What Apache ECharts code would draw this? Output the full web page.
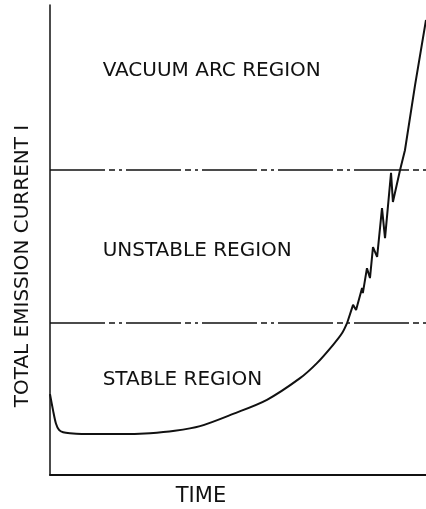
<!DOCTYPE html>
<html>
<head>
<meta charset="utf-8">
<script src="https://cdn.jsdelivr.net/npm/echarts@6/dist/echarts.min.js"></script>
<style>
  html, body { margin: 0; padding: 0; background: #fff; }
  #chart { width: 426px; height: 509px; }
</style>
</head>
<body>
<div id="chart"></div>
<script>
// Emission current versus time (arbitrary units, axes run 0..10)
const timeValues = [0, 0.08, 0.16, 0.24, 0.35, 0.53, 1.06, 1.86, 2.66, 3.32, 3.99, 4.87,
  5.77, 6.65, 7.10, 7.53, 7.77, 7.90, 8.06, 8.14, 8.30, 8.32, 8.43, 8.51, 8.59, 8.70,
  8.83, 8.91, 9.07, 9.12, 9.31, 9.44, 9.71, 10];
const currentValues = [1.72, 1.38, 1.09, 0.96, 0.91, 0.89, 0.87, 0.87, 0.89, 0.94, 1.04, 1.30,
  1.60, 2.06, 2.38, 2.77, 3.02, 3.23, 3.62, 3.51, 3.98, 3.87, 4.40, 4.19, 4.85, 4.64,
  5.68, 5.04, 6.43, 5.81, 6.49, 6.91, 8.30, 9.68];

// Boundaries between the operating regions
const stableLimit = 3.23;
const arcLimit = 6.49;

const regionNames = ['VACUUM ARC REGION', 'UNSTABLE REGION', 'STABLE REGION'];
const regionLevels = [8.6, 4.76, 2.03];

const xAxisTitle = 'TIME';
const yAxisTitle = 'TOTAL EMISSION CURRENT I';

const FONT = '"DejaVu Sans", sans-serif';

// The curve is smooth while stable and turns jagged once it passes the stable limit
const points = timeValues.map((t, i) => [t, currentValues[i]]);
const splitIndex = currentValues.findIndex(v => v >= stableLimit);
const stablePart = points.slice(0, splitIndex + 1);
const unstablePart = points.slice(splitIndex);

const chart = echarts.init(document.getElementById('chart'), null, { renderer: 'canvas' });

const curveStyle = { color: '#111', width: 2 };

const option = {
  animation: false,
  backgroundColor: '#fff',
  grid: { left: 50, right: 0, top: 5, bottom: 34, containLabel: false },
  xAxis: {
    type: 'value', min: 0, max: 10,
    axisLine: { show: true, lineStyle: { color: '#111', width: 2 } },
    axisTick: { show: false }, axisLabel: { show: false }, splitLine: { show: false }
  },
  yAxis: {
    type: 'value', min: 0, max: 10,
    axisLine: { show: true, lineStyle: { color: '#111', width: 1.5 } },
    axisTick: { show: false }, axisLabel: { show: false }, splitLine: { show: false }
  },
  series: [
    {
      type: 'line',
      data: stablePart,
      showSymbol: false,
      smooth: 0.3,
      lineStyle: curveStyle,
      z: 3,
      markLine: {
        silent: true,
        symbol: ['none', 'none'],
        label: { show: false },
        lineStyle: { color: '#111', width: 1.5, type: [55, 4, 6, 4, 3, 4] },
        data: [{ yAxis: stableLimit }, { yAxis: arcLimit }]
      }
    },
    {
      type: 'line',
      data: unstablePart,
      showSymbol: false,
      smooth: false,
      lineStyle: curveStyle,
      z: 3
    }
  ]
};

chart.setOption(option);

// Region labels placed at their current levels
const labels = regionNames.map((name, i) => {
  const p = chart.convertToPixel({ gridIndex: 0 }, [1.4, regionLevels[i]]);
  return {
    type: 'text', x: p[0], y: p[1],
    style: { text: name, font: '20px ' + FONT, fill: '#111', textVerticalAlign: 'middle', textAlign: 'left' }
  };
});
labels.push({
  type: 'text', x: 201, y: 497,
  style: { text: xAxisTitle, font: '21px ' + FONT, fill: '#111', textAlign: 'center', textVerticalAlign: 'middle' }
});
labels.push({
  type: 'text', x: 23, y: 266, rotation: Math.PI / 2,
  style: { text: yAxisTitle, font: '20px ' + FONT, fill: '#111', textAlign: 'center', textVerticalAlign: 'middle' }
});
chart.setOption({ graphic: labels });
</script>
</body>
</html>
